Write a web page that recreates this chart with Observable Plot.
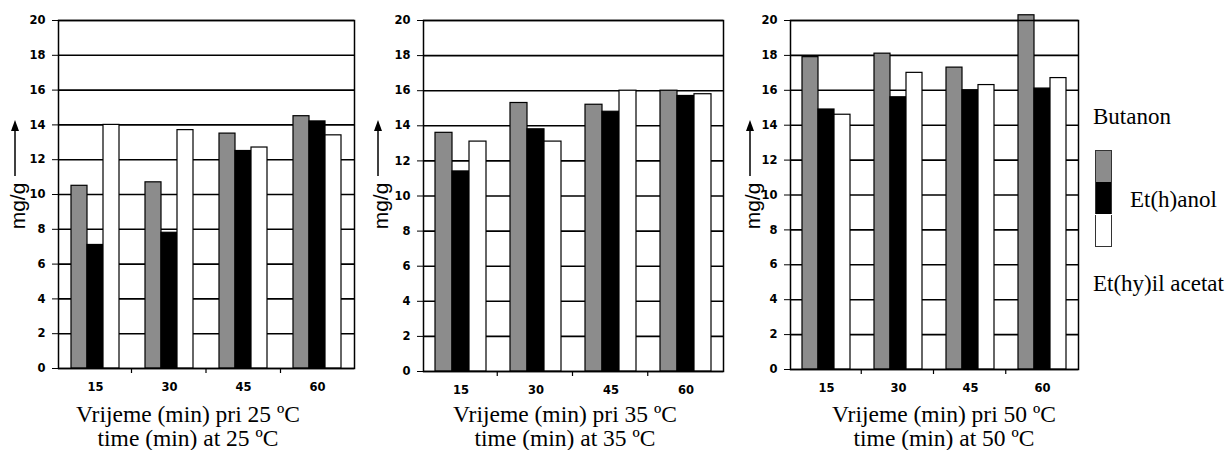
<!DOCTYPE html>
<html>
<head>
<meta charset="utf-8">
<script src="https://cdn.jsdelivr.net/npm/d3@7"></script>
<script src="https://cdn.jsdelivr.net/npm/@observablehq/plot@0.6"></script>
<style>
  body { margin: 0; background: #fff; }
  #wrap { position: relative; width: 1230px; height: 450px; overflow: hidden; background: #fff; }
  .panel { position: absolute; top: 0; }
  .title { position: absolute; width: 340px; text-align: center; font-family: "Liberation Serif", "Times New Roman", serif; font-size: 23.5px; line-height: 24px; color: #000; white-space: nowrap; }
  .leg { position: absolute; font-family: "Liberation Serif", "Times New Roman", serif; font-size: 23px; line-height: 23px; color: #000; white-space: nowrap; }
  .sw { position: absolute; width: 15px; border: 1.5px solid #333; box-sizing: content-box; }
</style>
</head>
<body>
<div id="wrap"></div>
<script>
// ---- data ----
const times = ["15", "30", "45", "60"];
const series = ["Butanon", "Et(h)anol", "Et(hy)il acetat"];
const butanon25 = [10.5, 10.7, 13.5, 14.5];
const etanol25  = [7.1, 7.8, 12.5, 14.2];
const acetat25  = [14.0, 13.7, 12.7, 13.4];
const butanon35 = [13.6, 15.3, 15.2, 16.0];
const etanol35  = [11.4, 13.8, 14.8, 15.7];
const acetat35  = [13.1, 13.1, 16.0, 15.8];
const butanon50 = [17.9, 18.1, 17.3, 20.3];
const etanol50  = [14.9, 15.6, 16.0, 16.1];
const acetat50  = [14.6, 17.0, 16.3, 16.7];
const yTicks = [0, 2, 4, 6, 8, 10, 12, 14, 16, 18, 20];
const temps = ["25", "35", "50"];
const yLabel = "mg/g";
const seriesColors = ["#8c8c8c", "#000000", "#ffffff"];

const wrap = document.getElementById("wrap");

function makePanel(vals, cfg) {
  const data = [];
  times.forEach((t, i) => series.forEach((s, j) => data.push({time: t, series: s, value: vals[j][i]})));
  const plot = Plot.plot({
    width: cfg.width,
    height: cfg.height,
    marginLeft: 57,
    marginRight: cfg.marginRight,
    marginTop: 20,
    marginBottom: 32,
    style: {fontFamily: "'DejaVu Sans', sans-serif", fontSize: "11.5px", fontWeight: "bold", color: "#000", background: "transparent", overflow: "visible"},
    fx: {domain: times, padding: 0, label: null, tickSize: 0, tickPadding: 14, axis: "bottom"},
    x: {domain: series, axis: null, paddingInner: 0, paddingOuter: 0.69},
    y: {domain: [0, 20], ticks: yTicks, tickSize: 6, tickPadding: 7, label: null},
    color: {domain: series, range: seriesColors},
    marks: [
      Plot.ruleY(yTicks, {stroke: "#000", strokeWidth: 1.6}),
      Plot.barY(data, {fx: "time", x: "series", y: "value", fill: "series", stroke: "#000", strokeWidth: 1.2}),
      Plot.frame({facet: "super", stroke: "#000", strokeWidth: 1.5})
    ]
  });
  plot.classList.add("panel");
  plot.style.left = cfg.left + "px";
  plot.style.position = "absolute";
  wrap.appendChild(plot);

  const svg = d3.select(plot);
  // enlarge axis tick labels
  svg.selectAll("g[aria-label*='axis']").attr("font-size", 11.5).attr("font-weight", "bold");
  svg.selectAll("g[aria-label*='axis'] text").attr("font-size", 11.5);

  // small boundary ticks under the x axis
  const fw = cfg.width - 57 - cfg.marginRight;
  const bottom = cfg.height - 32;
  const tg = svg.append("g").attr("stroke", "#000").attr("stroke-width", 1.2);
  for (let k = 1; k < times.length; k++) {
    const xx = 57 + fw * k / times.length;
    tg.append("line").attr("x1", xx).attr("x2", xx).attr("y1", bottom).attr("y2", bottom + 5);
  }
  // y label with arrow
  const bx = 57 - cfg.labelOff;
  const g = svg.append("g");
  g.append("text")
    .attr("transform", `translate(${bx},206) rotate(-90)`)
    .attr("text-anchor", "middle")
    .attr("font-family", "'Liberation Sans', Arial, sans-serif")
    .attr("font-size", 21)
    .attr("font-weight", "normal")
    .attr("fill", "#000")
    .text(yLabel);
  const ax = bx - 10;
  g.append("line").attr("x1", ax).attr("x2", ax).attr("y1", 176).attr("y2", 128).attr("stroke", "#000").attr("stroke-width", 1.5);
  g.append("path").attr("d", `M${ax},120 L${ax - 4},131 L${ax + 4},131 Z`).attr("fill", "#000");

  const tdiv = document.createElement("div");
  tdiv.className = "title";
  tdiv.style.left = (cfg.titleCenter - 170) + "px";
  tdiv.style.top = "402px";
  tdiv.innerHTML = `Vrijeme (min) pri ${cfg.temp} ºC<br>time (min) at ${cfg.temp} ºC`;
  wrap.appendChild(tdiv);
}

makePanel([butanon25, etanol25, acetat25], {left: 0, width: 370, height: 400, marginRight: 15, labelOff: 32, titleCenter: 188, temp: temps[0]});
makePanel([butanon35, etanol35, acetat35], {left: 365, width: 370, height: 403, marginRight: 12, labelOff: 34, titleCenter: 565, temp: temps[1]});
makePanel([butanon50, etanol50, acetat50], {left: 732, width: 356, height: 401, marginRight: 10, labelOff: 29, titleCenter: 944, temp: temps[2]});

// legend
function leg(text, left, top) {
  const d = document.createElement("div");
  d.className = "leg"; d.style.left = left + "px"; d.style.top = top + "px"; d.textContent = text;
  wrap.appendChild(d);
}
leg(series[0], 1093, 105);
leg(series[1], 1130, 188);
leg(series[2], 1093, 272);
const swTops = [150, 182, 215];
const swH = [31, 32, 31];
seriesColors.forEach((c, i) => {
  const s = document.createElement("div");
  s.className = "sw";
  s.style.left = "1095px";
  s.style.top = swTops[i] + "px";
  s.style.height = swH[i] + "px";
  s.style.background = c;
  if (i > 0) s.style.borderTop = "none";
  if (i < 2) s.style.borderBottom = "none";
  wrap.appendChild(s);
});
</script>
</body>
</html>
